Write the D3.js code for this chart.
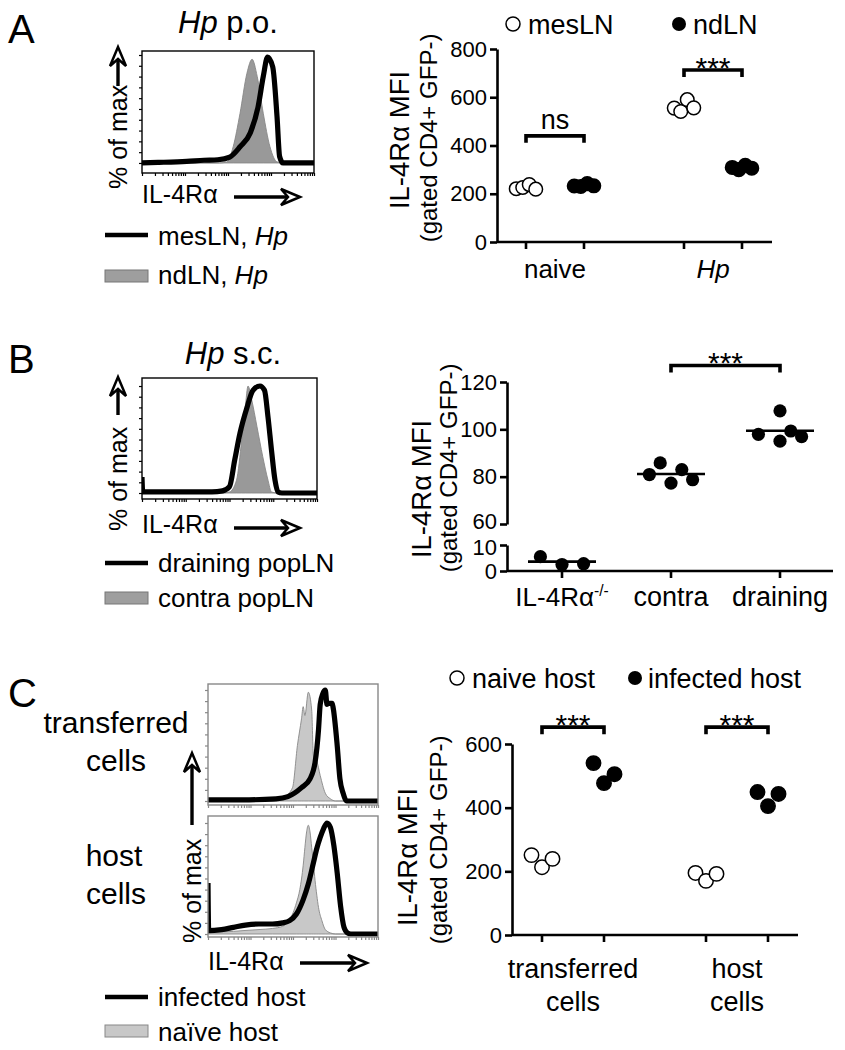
<!DOCTYPE html>
<html><head><meta charset="utf-8">
<script src="https://cdn.jsdelivr.net/npm/d3@7"></script>
<style>
body{margin:0;background:#fff}
svg text{font-family:"Liberation Sans",Arial,Helvetica,sans-serif;fill:#000}
</style></head><body>
<script>
// ================= DATA =================
// Histograms: [IL-4Rα channel (0-100 of plotted range), % of max]
const histA_mesLN = [[0,0],[10,0.5],[26,1.5],[36,2.5],[44,3],[51,5.5],[57,15],[63,28],[67.5,52],[70.5,80],[73,98],[76,89],[78.5,43],[80,6],[82,0],[100,0]];
const histA_ndLN  = [[0,0],[45,0],[49.4,1],[53,15],[57,46],[61,83],[64,96],[67,80],[70.5,46],[74.4,15],[78.5,1],[82,0],[100,0]];
const histB_draining = [[0,15],[0.4,1],[20,1],[40,1],[46,2],[50,6],[53,31],[56,56],[60,80],[63.4,96],[67.4,100],[70,96],[72,71],[74,40],[76,12],[77.7,1],[80,0],[100,0]];
const histB_contra   = [[0,0],[45,0],[50,1],[54,12],[57,50],[59,80],[60.6,100],[62.7,87],[65.7,62],[69,34],[72,12],[74,1],[77,0],[100,0]];
const histC_trans_infected = [[0,1],[20,1],[40,2],[47,4],[55,12],[60,20],[63,35],[65,64],[66,87],[67.6,97],[69,100],[70,87],[70.6,88],[73,88],[73.5,85],[76,50],[77.6,20],[79.5,7],[81.6,0],[100,0]];
const histC_trans_naive    = [[0,0],[38,0],[42,2],[45,4],[49.7,12],[52.6,50],[55,74],[56,85],[57,77],[59,98],[61,82],[62,41],[64,36],[66,23],[69,7],[72,2],[75,0],[100,0]];
const histC_host_infected  = [[0,46],[0.4,3],[8,4],[15,6],[22,8],[30,9],[38,9],[44,10],[48,12],[52,18],[56,31],[59,45],[62,64],[64,77],[66,87],[68,95],[70,100],[72,96],[74,80],[76,55],[78,25],[80,6],[82,1],[84,0],[100,0]];
const histC_host_naive     = [[0,2],[10,2],[20,3],[30,4],[38,5],[44,7],[48,13],[50,19],[52,28],[54,40],[56,62],[57,78],[58,92],[59,98],[60,92],[61,78],[62,64],[63,48],[64,35],[65,24],[67,12],[69,4],[72,1],[75,0],[100,0]];

// Panel A scatter (IL-4Rα MFI)
const catA = ["naive","Hp"];
const seriesA = ["mesLN","ndLN"];
const A_mesLN_naive = [221,226,238,219];
const A_ndLN_naive  = [232,230,242,233];
const A_mesLN_Hp    = [555,541,590,556];
const A_ndLN_Hp     = [309,300,318,306];
const A_ticks = [0,200,400,600,800];
const A_sig = [{cat:"naive",label:"ns",y:440},{cat:"Hp",label:"***",y:713}];

// Panel B scatter
const catB = ["IL-4Rα-/-","contra","draining"];
const B_ko       = [5.5,2.5,2.8];
const B_contra   = [80.9,85.8,77.3,83.0,78.7];
const B_draining = [97.9,107.8,95.0,99.3,96.9];
const B_slot_ko = [-2,0,2], B_slot_contra = [-2,-1,0,1,2], B_slot_draining = [-2,0,0,1,2];
const B_ticksUpper = [60,80,100,120];
const B_ticksLower = [0,10];
const B_sig = {from:"contra",to:"draining",label:"***",y:127};

// Panel C scatter
const catC = ["transferred cells","host cells"];
const seriesC = ["naive host","infected host"];
const C_naive_transferred    = [251,213,239];
const C_infected_transferred = [540,477,505];
const C_naive_host           = [195,170,192];
const C_infected_host        = [449,405,443];
const C_ticks = [0,200,400,600];
const C_sig = [{cat:"transferred cells",label:"***",y:653},{cat:"host cells",label:"***",y:653}];

// ================= HELPERS =================
const svg = d3.select("body").append("svg").attr("width",845).attr("height",1050);

function txt(parent, x, y, parts, size, anchor="start", rotate=false, baseline=null){
  const t = parent.append("text").attr("font-size",size).attr("text-anchor",anchor);
  if (rotate) t.attr("transform",`translate(${x},${y}) rotate(-90)`);
  else t.attr("x",x).attr("y",y);
  if (baseline) t.attr("dominant-baseline",baseline);
  (typeof parts === "string" ? [[parts]] : parts).forEach(([s,st])=>{
    const ts = t.append("tspan").text(s);
    if (st==="i") ts.attr("font-style","italic");
    if (st==="sup") ts.attr("font-size",size*0.6).attr("dy",-size*0.38);
  });
  return t;
}

function openArrow(g, x1,y1,x2,y2){
  const ang = Math.atan2(y2-y1,x2-x1);
  const L = 19, W = 8, N = 12;
  const sx = x2 - Math.cos(ang)*N, sy = y2 - Math.sin(ang)*N;
  g.append("line").attr("x1",x1).attr("y1",y1).attr("x2",sx).attr("y2",sy)
    .attr("stroke","#000").attr("stroke-width",3.4);
  const pts = [[0,0],[-L,-W],[-N,0],[-L,W]].map(([px,py])=>[
    x2 + px*Math.cos(ang) - py*Math.sin(ang),
    y2 + px*Math.sin(ang) + py*Math.cos(ang)]);
  g.append("polygon").attr("points",pts.map(p=>p.join(",")).join(" "))
    .attr("fill","#fff").attr("stroke","#000").attr("stroke-width",2.5).attr("stroke-linejoin","miter");
}

let clipId = 0;
function histogram(o){
  const g = svg.append("g");
  const x = d3.scaleLinear().domain([0,100]).range([o.x0,o.x1]);
  const y = d3.scaleLinear().domain(o.ydom).range([o.y1,o.y0]);
  const id = "clip"+(clipId++);
  g.append("clipPath").attr("id",id).append("rect")
    .attr("x",o.x0).attr("y",o.y0-8).attr("width",o.x1-o.x0).attr("height",o.y1-o.y0+8);
  const inner = g.append("g").attr("clip-path",`url(#${id})`);
  const area = d3.area().x(d=>x(d[0])).y0(y(0)).y1(d=>y(d[1])).curve(d3.curveMonotoneX);
  const line = d3.line().x(d=>x(d[0])).y(d=>y(d[1])).curve(d3.curveMonotoneX);
  inner.append("path").datum(o.grey).attr("d",area)
    .attr("fill",o.greyFill).attr("stroke",o.greyStroke).attr("stroke-width",0.9);
  inner.append("path").datum(o.black).attr("d",line)
    .attr("fill","none").attr("stroke","#000").attr("stroke-width",5.2).attr("stroke-linejoin","round");
  g.append("rect").attr("x",o.x0).attr("y",o.y0).attr("width",o.x1-o.x0).attr("height",o.y1-o.y0)
    .attr("fill","none").attr("stroke",o.boxStroke).attr("stroke-width",1.4);
  const ly = g.append("g").attr("transform",`translate(${o.x0},0)`)
    .call(d3.axisLeft(y).tickValues(d3.range(0,101,10)).tickSize(3).tickFormat(""));
  ly.select(".domain").remove();
  ly.selectAll("line").attr("stroke",o.boxStroke).attr("stroke-width",1.2);
  const xl = d3.scaleLog().domain([1,1e4]).range([o.x0,o.x1]);
  const bx = g.append("g").attr("transform",`translate(0,${o.y1})`)
    .call(d3.axisBottom(xl).ticks(40).tickSize(3).tickFormat(""));
  bx.select(".domain").remove();
  bx.selectAll("line").attr("stroke",o.boxStroke).attr("stroke-width",1.2);
  return g;
}

function styleAxis(ax, fs=22){
  ax.select(".domain").attr("stroke","#000").attr("stroke-width",2.6);
  ax.selectAll(".tick line").attr("stroke","#000").attr("stroke-width",2.6);
  ax.selectAll(".tick text").attr("font-size",fs).attr("font-family",'"Liberation Sans",Arial,sans-serif');
}

function bracket(g, xa, xb, yb, label, labelSize){
  g.append("path").attr("d",`M${xa},${yb+7}V${yb}H${xb}V${yb+7}`)
    .attr("fill","none").attr("stroke","#000").attr("stroke-width",3.6);
  if (label==="***") txt(g,(xa+xb)/2,yb+8,label,30,"middle");
  else txt(g,(xa+xb)/2,yb-7,label,labelSize||27,"middle");
}

// ================= PANEL A =================
txt(svg,8,43,"A",40);
txt(svg,228,33,[["Hp","i"],[" p.o."]],31,"middle");
histogram({x0:142,x1:314,y0:51,y1:173,ydom:[-9.3,103.7],black:histA_mesLN,grey:histA_ndLN,
  boxStroke:"#000",greyFill:"#999",greyStroke:"#888"});
txt(svg,118,189,"% of max",25,"start",true,"central");
openArrow(svg,118,86,118,47);
txt(svg,142,203,"IL-4Rα",25);
openArrow(svg,234,197,300,197);
svg.append("line").attr("x1",105).attr("x2",148).attr("y1",235).attr("y2",235).attr("stroke","#000").attr("stroke-width",4.5);
txt(svg,158,245,[["mesLN, "],["Hp","i"]],26);
svg.append("rect").attr("x",105).attr("y",270).attr("width",43).attr("height",12).attr("fill","#9e9e9e").attr("stroke","#777").attr("stroke-width",1);
txt(svg,158,284,[["ndLN, "],["Hp","i"]],26);

{
  const g = svg.append("g");
  const y = d3.scaleLinear().domain([0,800]).range([242,49]);
  const x = d3.scalePoint().domain(catA).range([555,713]);
  const s = d3.scalePoint().domain(seriesA).range([-29,29]);
  const ax = g.append("g").attr("transform","translate(497,0)")
    .call(d3.axisLeft(y).tickValues(A_ticks).tickSize(7).tickSizeOuter(0).tickPadding(3));
  styleAxis(ax);
  g.append("line").attr("x1",497).attr("x2",772).attr("y1",y(0)).attr("y2",y(0)).attr("stroke","#000").attr("stroke-width",2.6);
  catA.forEach(c=>seriesA.forEach(se=>{
    g.append("line").attr("x1",x(c)+s(se)).attr("x2",x(c)+s(se)).attr("y1",y(0)).attr("y2",y(0)+7).attr("stroke","#000").attr("stroke-width",2.6);
  }));
  txt(g,x("naive"),278,"naive",26,"middle");
  txt(g,x("Hp"),278,[["Hp","i"]],26,"middle");
  const groups = [
    {c:"naive",se:"mesLN",v:A_mesLN_naive},{c:"naive",se:"ndLN",v:A_ndLN_naive},
    {c:"Hp",se:"mesLN",v:A_mesLN_Hp},{c:"Hp",se:"ndLN",v:A_ndLN_Hp}];
  groups.forEach(gr=>{
    g.selectAll(null).data(gr.v).join("circle")
      .attr("cx",(d,i)=>x(gr.c)+s(gr.se)+(i-(gr.v.length-1)/2)*6.5)
      .attr("cy",d=>y(d)).attr("r",6.8)
      .attr("fill",gr.se==="mesLN"?"#fff":"#000").attr("stroke","#000").attr("stroke-width",1.5);
  });
  A_sig.forEach(sg=>bracket(g,x(sg.cat)+s("mesLN"),x(sg.cat)+s("ndLN"),y(sg.y),sg.label,27));
  txt(g,399,140,"IL-4Rα MFI",27.5,"middle",true,"central");
  txt(g,428,138,"(gated CD4+ GFP-)",24,"middle",true,"central");
  g.append("circle").attr("cx",513).attr("cy",24).attr("r",7).attr("fill","#fff").attr("stroke","#000").attr("stroke-width",1.5);
  txt(g,528,34,seriesA[0],27);
  g.append("circle").attr("cx",679).attr("cy",24).attr("r",7).attr("fill","#000");
  txt(g,693,34,seriesA[1],27);
}

// ================= PANEL B =================
txt(svg,8,373,"B",40);
txt(svg,233,364,[["Hp","i"],[" s.c."]],31,"middle");
histogram({x0:142,x1:317,y0:378,y1:499,ydom:[-5.6,107.5],black:histB_draining,grey:histB_contra,
  boxStroke:"#000",greyFill:"#999",greyStroke:"#888"});
txt(svg,118,531,"% of max",25,"start",true,"central");
openArrow(svg,118,415,118,377);
txt(svg,142,533,"IL-4Rα",25);
openArrow(svg,234,528,300,528);
svg.append("line").attr("x1",105).attr("x2",148).attr("y1",563).attr("y2",563).attr("stroke","#000").attr("stroke-width",4.5);
txt(svg,158,572,"draining popLN",26);
svg.append("rect").attr("x",105).attr("y",592).attr("width",43).attr("height",12).attr("fill","#9e9e9e").attr("stroke","#777").attr("stroke-width",1);
txt(svg,158,607,"contra popLN",26);

{
  const g = svg.append("g");
  const yU = d3.scaleLinear().domain([60,120]).range([524,382]);
  const yL = d3.scaleLinear().domain([0,10]).range([571,545]);
  const y = v => v>=60 ? yU(v) : yL(v);
  const x = d3.scalePoint().domain(catB).range([562,780]);
  const axU = g.append("g").attr("transform","translate(507,0)")
    .call(d3.axisLeft(yU).tickValues(B_ticksUpper).tickSize(7).tickSizeOuter(0).tickPadding(3));
  styleAxis(axU);
  axU.selectAll(".tick text").filter(d=>d===60).attr("dy","0.22em");
  const axL = g.append("g").attr("transform","translate(507,0)")
    .call(d3.axisLeft(yL).tickValues(B_ticksLower).tickSize(7).tickSizeOuter(0).tickPadding(3));
  styleAxis(axL);
  axL.selectAll(".tick text").filter(d=>d===10).attr("dy","0.42em");
  g.append("line").attr("x1",507).attr("x2",833).attr("y1",yL(0)).attr("y2",yL(0)).attr("stroke","#000").attr("stroke-width",2.6);
  catB.forEach(c=>g.append("line").attr("x1",x(c)).attr("x2",x(c)).attr("y1",yL(0)).attr("y2",yL(0)+7).attr("stroke","#000").attr("stroke-width",2.6));
  txt(g,x(catB[0]),606,[["IL-4Rα"],["-/-","sup"]],26,"middle");
  txt(g,x(catB[1]),606,catB[1],27,"middle");
  txt(g,x(catB[2]),606,catB[2],27,"middle");
  const groups = [{c:catB[0],v:B_ko,sl:B_slot_ko},{c:catB[1],v:B_contra,sl:B_slot_contra},{c:catB[2],v:B_draining,sl:B_slot_draining}];
  groups.forEach(gr=>{
    const m = d3.mean(gr.v);
    g.append("line").attr("x1",x(gr.c)-34).attr("x2",x(gr.c)+34).attr("y1",y(m)).attr("y2",y(m)).attr("stroke","#000").attr("stroke-width",2.6);
    g.selectAll(null).data(gr.v).join("circle")
      .attr("cx",(d,i)=>x(gr.c)+gr.sl[i]*10.8).attr("cy",d=>y(d)).attr("r",6.6).attr("fill","#000");
  });
  bracket(g,x(B_sig.from),x(B_sig.to),yU(B_sig.y),B_sig.label);
  txt(g,421,489,"IL-4Rα MFI",27.5,"middle",true,"central");
  txt(g,448,468,"(gated CD4+ GFP-)",24,"middle",true,"central");
}

// ================= PANEL C =================
txt(svg,8,707,"C",40);
histogram({x0:208,x1:378,y0:684,y1:805,ydom:[-3.6,105.4],black:histC_trans_infected,grey:histC_trans_naive,
  boxStroke:"#888",greyFill:"#c8c8c8",greyStroke:"#888"});
histogram({x0:208,x1:378,y0:816,y1:937,ydom:[-2.7,106.3],black:histC_host_infected,grey:histC_host_naive,
  boxStroke:"#888",greyFill:"#c8c8c8",greyStroke:"#888"});
txt(svg,116,733,"transferred",30,"middle");
txt(svg,116,771,"cells",30,"middle");
txt(svg,114,866,"host",30,"middle");
txt(svg,116,904,"cells",30,"middle");
txt(svg,192,943,"% of max",25,"start",true,"central");
openArrow(svg,192,825,192,753);
txt(svg,208,970,"IL-4Rα",25);
openArrow(svg,300,963,367,963);
svg.append("line").attr("x1",105).attr("x2",148).attr("y1",997).attr("y2",997).attr("stroke","#000").attr("stroke-width",4.5);
txt(svg,158,1006,"infected host",26);
svg.append("rect").attr("x",105).attr("y",1025).attr("width",43).attr("height",12).attr("fill","#c8c8c8").attr("stroke","#888").attr("stroke-width",1);
txt(svg,158,1041,"naïve host",26);

{
  const g = svg.append("g");
  const y = d3.scaleLinear().domain([0,600]).range([935,744]);
  const x = d3.scalePoint().domain(catC).range([573,737]);
  const s = d3.scalePoint().domain(seriesC).range([-31,31]);
  const ax = g.append("g").attr("transform","translate(512,0)")
    .call(d3.axisLeft(y).tickValues(C_ticks).tickSize(7).tickSizeOuter(0).tickPadding(3));
  styleAxis(ax);
  g.append("line").attr("x1",512).attr("x2",798).attr("y1",y(0)).attr("y2",y(0)).attr("stroke","#000").attr("stroke-width",2.6);
  catC.forEach(c=>seriesC.forEach(se=>{
    g.append("line").attr("x1",x(c)+s(se)).attr("x2",x(c)+s(se)).attr("y1",y(0)).attr("y2",y(0)+7).attr("stroke","#000").attr("stroke-width",2.6);
  }));
  catC.forEach(c=>{
    const [l1,l2] = c.split(" ");
    txt(g,x(c),978,l1,27,"middle");
    txt(g,x(c),1011,l2,27,"middle");
  });
  const groups = [
    {c:catC[0],se:seriesC[0],v:C_naive_transferred},{c:catC[0],se:seriesC[1],v:C_infected_transferred},
    {c:catC[1],se:seriesC[0],v:C_naive_host},{c:catC[1],se:seriesC[1],v:C_infected_host}];
  groups.forEach(gr=>{
    g.selectAll(null).data(gr.v).join("circle")
      .attr("cx",(d,i)=>x(gr.c)+s(gr.se)+(i-1)*10.5)
      .attr("cy",d=>y(d)).attr("r",7.2)
      .attr("fill",gr.se===seriesC[0]?"#fff":"#000").attr("stroke","#000").attr("stroke-width",1.5);
  });
  C_sig.forEach(sg=>bracket(g,x(sg.cat)+s(seriesC[0]),x(sg.cat)+s(seriesC[1]),y(sg.y),sg.label));
  txt(g,407,857,"IL-4Rα MFI",27.5,"middle",true,"central");
  txt(g,438,840,"(gated CD4+ GFP-)",24,"middle",true,"central");
  g.append("circle").attr("cx",457).attr("cy",678).attr("r",7).attr("fill","#fff").attr("stroke","#000").attr("stroke-width",1.5);
  txt(g,472,688,seriesC[0],27);
  g.append("circle").attr("cx",635).attr("cy",678).attr("r",7).attr("fill","#000");
  txt(g,648,688,seriesC[1],27);
}
</script>
</body></html>
